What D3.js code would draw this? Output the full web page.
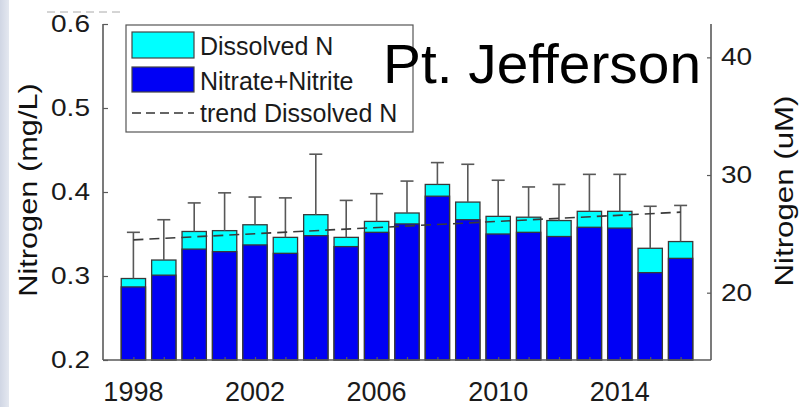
<!DOCTYPE html>
<html>
<head>
<meta charset="utf-8">
<script src="https://cdn.jsdelivr.net/npm/d3@7"></script>
<style>
  html, body { margin: 0; padding: 0; background: #fff; }
  svg { display: block; }
  text { font-family: "Liberation Sans", Arial, Helvetica, sans-serif; }
</style>
</head>
<body>
<svg id="chart" width="803" height="407"></svg>
<script>
// Annual mean nitrogen, Pt. Jefferson station (mg/L)
const years = [1998, 1999, 2000, 2001, 2002, 2003, 2004, 2005, 2006, 2007,
               2008, 2009, 2010, 2011, 2012, 2013, 2014, 2015, 2016];
const dissolvedN = [0.297, 0.319, 0.353, 0.354, 0.361, 0.346, 0.373, 0.346, 0.365, 0.375,
                    0.409, 0.388, 0.371, 0.370, 0.366, 0.377, 0.377, 0.333, 0.341];
const nitrateNitrite = [0.287, 0.301, 0.332, 0.329, 0.337, 0.327, 0.348, 0.335, 0.352, 0.362,
                        0.395, 0.367, 0.350, 0.352, 0.347, 0.358, 0.357, 0.304, 0.321];
const dissolvedSD = [0.055, 0.048, 0.034, 0.045, 0.033, 0.047, 0.072, 0.044, 0.033, 0.038,
                     0.026, 0.045, 0.043, 0.036, 0.043, 0.044, 0.044, 0.050, 0.043];
// Linear trend of dissolved N, first and last year
const trendYears = [1998, 2016];
const trendValues = [0.343, 0.376];

const leftTicks = [0.2, 0.3, 0.4, 0.5, 0.6];
const rightTicks = [20, 30, 40];
const xTickYears = [1998, 2002, 2006, 2010, 2014];
const legendLabels = ["Dissolved N", "Nitrate+Nitrite", "trend Dissolved N"];
const MG_PER_UMOL_N = 0.014007;

const svg = d3.select("#chart");
const plot = { left: 103, right: 711, top: 24, bottom: 360 };

// slide background strip on the far left
const grad = svg.append("defs").append("linearGradient")
  .attr("id", "edge").attr("x1", 0).attr("x2", 1);
grad.append("stop").attr("offset", "0%").attr("stop-color", "#d0d6e4");
grad.append("stop").attr("offset", "100%").attr("stop-color", "#e4e8f0");
svg.append("rect").attr("x", 0).attr("y", 0).attr("width", 9).attr("height", 407)
  .attr("fill", "url(#edge)");

// faint clipped remnant at the very top
svg.append("line").attr("x1", 47).attr("x2", 121).attr("y1", 12).attr("y2", 12)
  .attr("stroke", "#aaa").attr("stroke-width", 1).attr("stroke-dasharray", "8,5");

const x = d3.scaleLinear().domain([1997, 2017]).range([plot.left, plot.right]);
const y = d3.scaleLinear().domain([0.2, 0.6]).range([plot.bottom, plot.top]);
const yR = d3.scaleLinear()
  .domain([0.2 / MG_PER_UMOL_N, 0.6 / MG_PER_UMOL_N])
  .range([plot.bottom, plot.top]);
const step = x(1999) - x(1998);
const barW = step * 0.8;

const axisColor = "#5a5a5a";

// bars: total dissolved N (cyan) with nitrate+nitrite (blue) stacked inside
const bars = svg.append("g");
years.forEach((yr, i) => {
  bars.append("rect")
    .attr("x", x(yr) - barW / 2).attr("width", barW)
    .attr("y", y(dissolvedN[i])).attr("height", y(0.2) - y(dissolvedN[i]))
    .attr("fill", "#00ffff").attr("stroke", "#383838").attr("stroke-width", 1.3);
  bars.append("rect")
    .attr("x", x(yr) - barW / 2).attr("width", barW)
    .attr("y", y(nitrateNitrite[i])).attr("height", y(0.2) - y(nitrateNitrite[i]))
    .attr("fill", "#0000f5").attr("stroke", "#383838").attr("stroke-width", 1.3);
});

// upper error bars
const err = svg.append("g").attr("stroke", "#585858").attr("stroke-width", 1.6);
years.forEach((yr, i) => {
  const top = y(dissolvedN[i] + dissolvedSD[i]);
  err.append("line").attr("x1", x(yr)).attr("x2", x(yr))
    .attr("y1", y(dissolvedN[i])).attr("y2", top);
  err.append("line").attr("x1", x(yr) - 6.5).attr("x2", x(yr) + 6.5)
    .attr("y1", top).attr("y2", top);
});

// trend line
svg.append("path")
  .datum(trendYears.map((yr, i) => [yr, trendValues[i]]))
  .attr("d", d3.line().x(d => x(d[0])).y(d => y(d[1])))
  .attr("fill", "none").attr("stroke", "#3a3a3a").attr("stroke-width", 1.6)
  .attr("stroke-dasharray", "10,6");

// axes
const fmt = d3.format(".1f");
const gL = svg.append("g").attr("transform", `translate(${plot.left},0)`)
  .call(d3.axisRight(y).tickValues(leftTicks).tickSize(5).tickFormat(""));
const gR = svg.append("g").attr("transform", `translate(${plot.right},0)`)
  .call(d3.axisLeft(yR).tickValues(rightTicks).tickSize(4).tickFormat(""));
const gB = svg.append("g").attr("transform", `translate(0,${plot.bottom})`)
  .call(d3.axisTop(x).tickValues(years).tickSize(3).tickFormat(""));
[gL, gR, gB].forEach(g => {
  g.select(".domain").attr("stroke", axisColor).attr("stroke-width", 1.6);
  g.selectAll(".tick line").attr("stroke", axisColor).attr("stroke-width", 1.2);
});
gB.select(".domain").attr("d", `M${plot.left},0H${plot.right}`);
gL.select(".domain").attr("d", `M0,${plot.bottom}V${plot.top}`);
gR.select(".domain").attr("d", `M0,${plot.bottom}V${plot.top}`);

// tick labels
leftTicks.forEach(v => {
  svg.append("text")
    .attr("transform", `translate(90,${y(v) + 8}) scale(1.22,1)`)
    .attr("text-anchor", "end").attr("font-size", 23).attr("fill", "#1a1a1a")
    .text(fmt(v));
});
rightTicks.forEach(v => {
  svg.append("text")
    .attr("transform", `translate(721,${yR(v) + 8}) scale(1.22,1)`)
    .attr("text-anchor", "start").attr("font-size", 23).attr("fill", "#1a1a1a")
    .text(v);
});
xTickYears.forEach(v => {
  svg.append("text")
    .attr("x", x(v)).attr("y", 401)
    .attr("text-anchor", "middle").attr("font-size", 27).attr("fill", "#1a1a1a")
    .text(v);
});

// axis titles
svg.append("text")
  .attr("transform", "translate(37,190) rotate(-90) scale(1.23,1)")
  .attr("text-anchor", "middle").attr("font-size", 25).attr("fill", "#111")
  .text("Nitrogen (mg/L)");
svg.append("text")
  .attr("transform", "translate(793,191) rotate(-90) scale(1.25,1)")
  .attr("text-anchor", "middle").attr("font-size", 25).attr("fill", "#111")
  .text("Nitrogen (uM)");

// legend
const lg = svg.append("g");
lg.append("rect").attr("x", 126).attr("y", 25).attr("width", 287).attr("height", 107)
  .attr("fill", "#fff").attr("stroke", "#555").attr("stroke-width", 1.2);
lg.append("rect").attr("x", 132).attr("y", 32).attr("width", 62).attr("height", 26)
  .attr("fill", "#00ffff").attr("stroke", "#444").attr("stroke-width", 1.2);
lg.append("rect").attr("x", 132).attr("y", 67).attr("width", 62).attr("height", 25)
  .attr("fill", "#0000f5").attr("stroke", "#444").attr("stroke-width", 1.2);
lg.append("line").attr("x1", 132).attr("x2", 194).attr("y1", 113).attr("y2", 113)
  .attr("stroke", "#333").attr("stroke-width", 1.4).attr("stroke-dasharray", "9,5");
[55, 90, 122].forEach((by, i) => {
  lg.append("text").attr("x", 200).attr("y", by)
    .attr("font-size", 25).attr("fill", "#1a1a1a")
    .text(legendLabels[i]);
});

// station name
svg.append("text")
  .attr("x", 383).attr("y", 83)
  .attr("font-family", "Lato, 'Open Sans', sans-serif")
  .attr("font-size", 55).attr("fill", "#000")
  .attr("textLength", 318).attr("lengthAdjust", "spacingAndGlyphs")
  .text("Pt. Jefferson");
</script>
</body>
</html>
